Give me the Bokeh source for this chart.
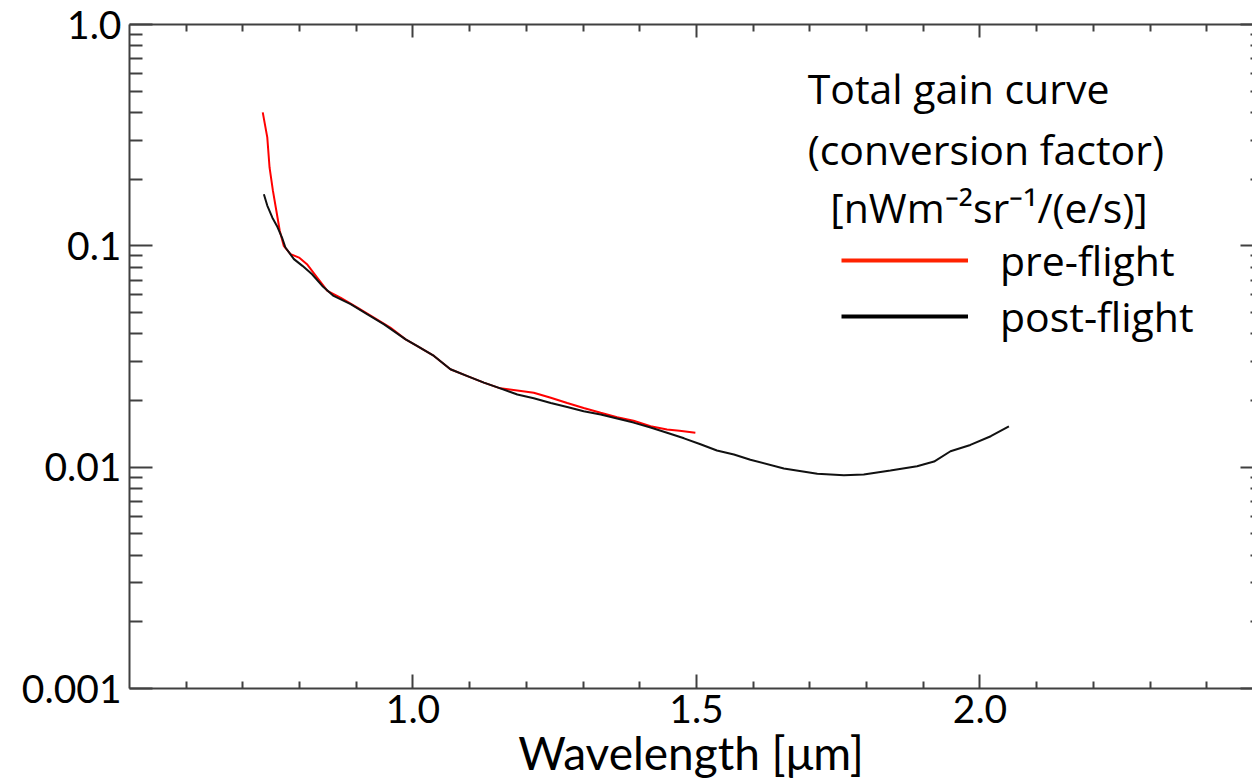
from bokeh.plotting import figure
from bokeh.models import (LogAxis, LinearAxis, FixedTicker, Range1d, Label,
                          Legend, LegendItem)
from bokeh.embed import file_html
from bokeh.resources import INLINE

# ---- data ----
pre_x = [0.735, 0.743, 0.747, 0.753, 0.759, 0.765, 0.772, 0.784, 0.799, 0.813,
         0.831, 0.849, 0.872, 0.902, 0.931, 0.960, 0.987, 1.007, 1.037, 1.066,
         1.096, 1.125, 1.154, 1.184, 1.213, 1.243, 1.272, 1.301, 1.331, 1.360,
         1.389, 1.419, 1.448, 1.470, 1.498]
pre_y = [0.401, 0.309, 0.226, 0.177, 0.144, 0.117, 0.100, 0.0917, 0.0885, 0.0826,
         0.0719, 0.0626, 0.0584, 0.0526, 0.0474, 0.0427, 0.0378, 0.0353, 0.0318, 0.0277,
         0.0258, 0.0241, 0.0227, 0.0222, 0.0217, 0.0206, 0.0195, 0.0185, 0.0176, 0.0168,
         0.0162, 0.0153, 0.0148, 0.0146, 0.0143]

post_x = [0.737, 0.743, 0.752, 0.760, 0.769, 0.775, 0.790, 0.805, 0.822, 0.840,
          0.860, 0.890, 0.919, 0.949, 0.987, 1.007, 1.037, 1.066, 1.096, 1.125,
          1.154, 1.184, 1.213, 1.243, 1.272, 1.301, 1.331, 1.360, 1.389, 1.419,
          1.448, 1.478, 1.507, 1.536, 1.566, 1.595, 1.654, 1.713, 1.760, 1.795,
          1.842, 1.889, 1.919, 1.948, 1.983, 2.019, 2.051]
post_y = [0.171, 0.152, 0.134, 0.123, 0.109, 0.0983, 0.0871, 0.0812, 0.0744, 0.0659,
          0.0594, 0.0545, 0.0491, 0.0442, 0.0378, 0.0353, 0.0318, 0.0277, 0.0258, 0.0241,
          0.0227, 0.0213, 0.0205, 0.0195, 0.0187, 0.0179, 0.0173, 0.0166, 0.0159, 0.0151,
          0.0143, 0.0135, 0.0127, 0.0119, 0.0114, 0.0108, 0.00986, 0.00933, 0.00920, 0.00927,
          0.00966, 0.0101, 0.0106, 0.0118, 0.0126, 0.0138, 0.0153]

series_names = ["pre-flight", "post-flight"]
x_major = [1.0, 1.5, 2.0]
x_labels = ["1.0", "1.5", "2.0"]
x_minor = [0.6, 0.7, 0.8, 0.9, 1.1, 1.2, 1.3, 1.4, 1.6, 1.7, 1.8, 1.9, 2.1, 2.2, 2.3, 2.4]
y_major = [0.001, 0.01, 0.1, 1.0]
y_labels = ["0.001", "0.01", "0.1", "1.0"]
y_minor = [0.002, 0.003, 0.004, 0.005, 0.006, 0.007, 0.008, 0.009,
           0.02, 0.03, 0.04, 0.05, 0.06, 0.07, 0.08, 0.09,
           0.2, 0.3, 0.4, 0.5, 0.6, 0.7, 0.8, 0.9]
x_title = "Wavelength [\u03bcm]"
legend_title = ["Total gain curve", "(conversion factor)", "[nWm\u207b\u00b2sr\u207b\u00b9/(e/s)]"]

FONT = "Lato"
LFONT = "Open Sans"
FS = "39px"
LFS = "41px"
AX = "#404040"

p = figure(width=1252, height=783, y_axis_type="log",
           x_range=Range1d(0.5, 2.4806), y_range=Range1d(0.001, 1.0),
           output_backend="svg", toolbar_location=None,
           min_border_left=129, min_border_top=24, min_border_right=0,
           min_border_bottom=95)
p.outline_line_color = None
p.xgrid.visible = False
p.ygrid.visible = False
p.background_fill_color = "white"
p.border_fill_color = "white"

xt = FixedTicker(ticks=x_major, minor_ticks=x_minor)
yt = FixedTicker(ticks=y_major, minor_ticks=y_minor)

def style(ax, maj_in, min_in):
    ax.axis_line_color = AX
    ax.axis_line_width = 2
    ax.major_tick_line_color = AX
    ax.minor_tick_line_color = AX
    ax.major_tick_line_width = 2
    ax.minor_tick_line_width = 2
    ax.major_tick_in = maj_in
    ax.major_tick_out = 0
    ax.minor_tick_in = min_in
    ax.minor_tick_out = 0
    ax.major_label_text_font = FONT
    ax.major_label_text_font_size = FS
    ax.major_label_text_color = "black"

# bottom
xa = p.xaxis[0]
xa.ticker = xt
style(xa, 14, 7)
xa.major_label_overrides = dict(zip(x_major, x_labels))
xa.major_label_standoff = 6
xa.axis_label = x_title
xa.axis_label_text_font = FONT
xa.axis_label_text_font_size = "46px"
xa.axis_label_text_font_style = "normal"
xa.axis_label_text_color = "black"
xa.axis_label_standoff = -1

# left
ya = p.yaxis[0]
ya.ticker = yt
style(ya, 23, 13)
ya.major_label_overrides = dict(zip(y_major, y_labels))
ya.major_label_standoff = 8

# top (ticks only)
ta = LinearAxis(ticker=xt)
style(ta, 13, 7)
ta.major_label_overrides = {t: "" for t in x_major}
ta.major_label_standoff = 0
p.add_layout(ta, "above")

# right (ticks only)
ra = LogAxis(ticker=yt)
style(ra, 12, 2)
ra.axis_line_color = None
ra.major_label_overrides = {t: "" for t in y_major}
ra.major_label_standoff = 0
p.add_layout(ra, "right")

# curves
r_pre = p.line(pre_x, pre_y, line_color="#ff0000", line_width=2)
r_post = p.line(post_x, post_y, line_color="#111111", line_width=2)

# legend swatch proxies (thicker than the curves, as in the reference); hidden in the plot
leg_pre = p.line(pre_x, pre_y, line_color="#ff2200", line_width=4, visible=False)
leg_post = p.line(post_x, post_y, line_color="#000000", line_width=4, visible=False)
legend = Legend(items=[LegendItem(label=series_names[0], renderers=[leg_pre]),
                       LegendItem(label=series_names[1], renderers=[leg_post])],
                location=(712, 344), glyph_width=127, glyph_height=44,
                label_height=44, label_standoff=32, spacing=0,
                padding=0, margin=0, border_line_color=None,
                background_fill_alpha=0,
                label_text_font=LFONT, label_text_font_size=LFS,
                label_text_color="black")
p.add_layout(legend)

# legend title lines (three text lines)
title_x = [1.696, 1.696, 1.736]
title_y = [0.516, 0.2734, 0.1498]
for tx, ty, tt in zip(title_x, title_y, legend_title):
    p.add_layout(Label(x=tx, y=ty, text=tt, text_font=LFONT, text_font_size=LFS,
                       text_color="black", text_align="left",
                       text_baseline="alphabetic"))

open("out.html", "w").write(file_html(p, INLINE))
